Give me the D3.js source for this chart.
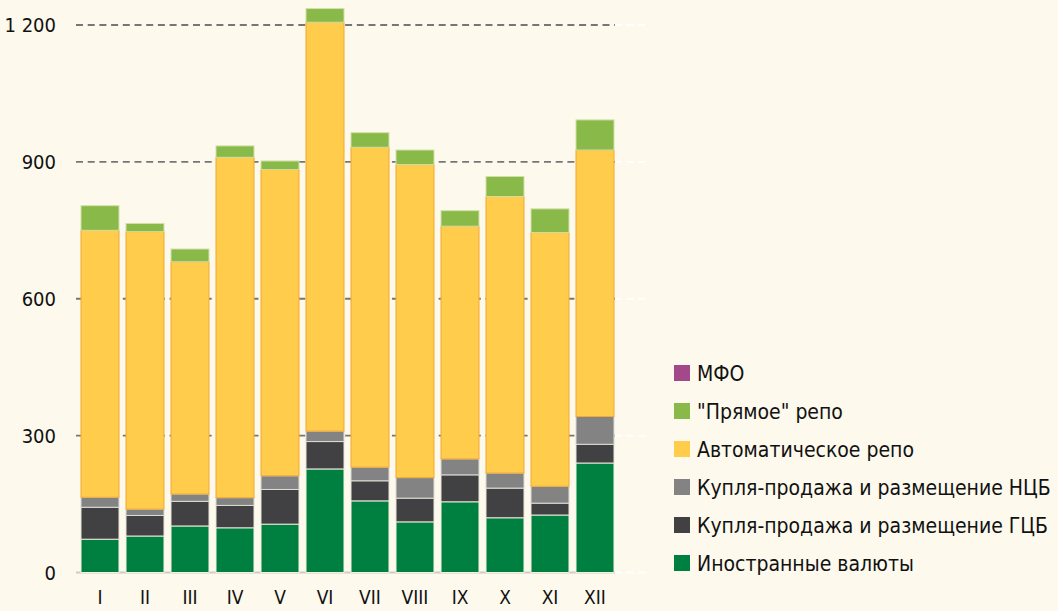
<!DOCTYPE html>
<html>
<head>
<meta charset="utf-8">
<script src="https://cdn.jsdelivr.net/npm/d3@7"></script>
<style>
  body { margin: 0; background: #fdf9ed; }
  svg { display: block; }
  text { font-family: "Liberation Sans Narrow", "DejaVu Sans Condensed", "Roboto", sans-serif; font-stretch: condensed; fill: #111; }
</style>
</head>
<body>
<div id="chart"></div>
<script>
// months
const months = ['I', 'II', 'III', 'IV', 'V', 'VI', 'VII', 'VIII', 'IX', 'X', 'XI', 'XII'];

// series values, stacked bottom to top
const fx       = [73, 80, 102, 98, 106, 227, 157, 111, 155, 120, 126, 240];
const gcb      = [70, 45, 54, 49, 76, 60, 44, 52, 59, 65, 26, 41];
const ncb      = [22, 14, 16, 17, 30, 23, 30, 45, 35, 33, 37, 61];
const autoRepo = [585, 608, 509, 746, 671, 896, 701, 686, 510, 606, 556, 584];
const direct   = [54, 18, 28, 25, 19, 30, 32, 32, 34, 44, 52, 66];
const mfo      = [0, 0, 0, 0, 0, 0, 0, 0, 0, 0, 0, 0];

const yTicks = [0, 300, 600, 900, 1200];

const seriesNames = ['Иностранные валюты', 'Купля-продажа и размещение ГЦБ', 'Купля-продажа и размещение НЦБ',
    'Автоматическое репо', '"Прямое" репо', 'МФО'];
const seriesValues = [fx, gcb, ncb, autoRepo, direct, mfo];
const colors = ['#008040', '#414042', '#838383', '#ffcd4b', '#89b948', '#a3488a'];
const strokes = ['#f4f0e0', '#e8e4d8', '#dcdcd4', '#f2a630', '#d4e0a8', '#e0c0d8'];

const width = 1058, height = 611;

const svg = d3.select('#chart').append('svg')
    .attr('width', width)
    .attr('height', height);

const x = d3.scaleBand()
    .domain(months)
    .range([81, 614])
    .paddingInner(7 / 45)
    .paddingOuter(0);

const y = d3.scaleLinear()
    .domain([0, 1200])
    .range([572.5, 25]);

// build rows for stack
const table = months.map((m, i) => {
    const row = { month: m };
    seriesNames.forEach((s, k) => { row[s] = seriesValues[k][i]; });
    return row;
});
const stacked = d3.stack().keys(seriesNames)(table);

// grid (faint continuation past the plot first)
svg.append('g')
    .selectAll('line')
    .data(yTicks)
    .join('line')
    .attr('x1', 615)
    .attr('x2', 645)
    .attr('y1', d => y(d))
    .attr('y2', d => y(d))
    .attr('stroke', '#ffffff')
    .attr('stroke-width', 1.8)
    .attr('stroke-dasharray', '7,4.7');

svg.append('g')
    .selectAll('line')
    .data(yTicks)
    .join('line')
    .attr('x1', 76)
    .attr('x2', 615)
    .attr('y1', d => y(d))
    .attr('y2', d => y(d))
    .attr('stroke', d => d === 0 ? '#cfccc4' : '#767676')
    .attr('stroke-width', 1.8)
    .attr('stroke-dasharray', d => d === 0 ? null : '7,4.7');

// y labels
svg.append('g')
    .selectAll('text')
    .data(yTicks)
    .join('text')
    .attr('x', 56)
    .attr('y', d => y(d))
    .attr('dy', '0.35em')
    .attr('text-anchor', 'end')
    .style('font-size', '20px')
    .text(d => d3.format(',')(d).replace(',', ' '));

// bars
svg.append('g')
    .selectAll('g')
    .data(stacked)
    .join('g')
    .attr('fill', (d, k) => colors[k])
    .attr('stroke', (d, k) => strokes[k])
    .selectAll('rect')
    .data(d => d)
    .join('rect')
    .attr('x', d => x(d.data.month))
    .attr('width', x.bandwidth())
    .attr('y', d => y(d[1]))
    .attr('height', d => Math.max(0, y(d[0]) - y(d[1])))
    .attr('stroke-width', d => (d[1] - d[0]) > 0 ? 1 : 0);

// x labels
svg.append('g')
    .selectAll('text')
    .data(months)
    .join('text')
    .attr('x', d => x(d) + x.bandwidth() / 2)
    .attr('y', 604)
    .attr('text-anchor', 'middle')
    .style('font-size', '19px')
    .text(d => d);

// legend, top to bottom reversed
const legendOrder = d3.range(seriesNames.length).reverse();
const legend = svg.append('g')
    .selectAll('g')
    .data(legendOrder)
    .join('g')
    .attr('transform', (k, i) => `translate(674, ${373 + i * 38})`);

legend.append('rect')
    .attr('x', 0)
    .attr('y', -8)
    .attr('width', 16)
    .attr('height', 16)
    .attr('fill', k => colors[k]);

legend.append('text')
    .attr('x', 23)
    .attr('y', 0)
    .attr('dy', '0.36em')
    .style('font-size', '21px')
    .text(k => seriesNames[k]);
</script>
</body>
</html>
